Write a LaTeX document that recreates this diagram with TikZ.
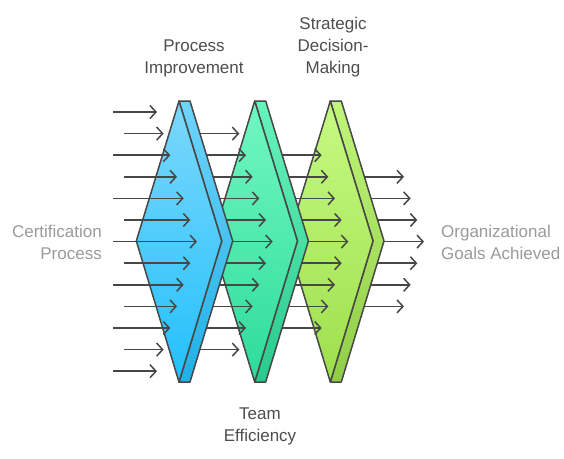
\documentclass[tikz,border=0pt]{standalone}
\usepackage{fontspec}
\setmainfont{Liberation Sans}
\usetikzlibrary{arrows.meta}
\definecolor{linegray}{HTML}{474747}
\definecolor{labeldark}{HTML}{4D4D4D}
\definecolor{labellight}{HTML}{9A9A9A}
\definecolor{bluetop}{HTML}{7CD8FB}
\definecolor{bluebot}{HTML}{22C0FB}
\definecolor{greentop}{HTML}{72F8C2}
\definecolor{greenbot}{HTML}{2DDB9A}
\definecolor{limetop}{HTML}{C6FA82}
\definecolor{limebot}{HTML}{9DDF4C}
\tikzset{
    flow/.style={draw=linegray, line width=1.5pt, -{Straight Barb[length=6pt,width=13pt]}},
    layer/.style={draw=linegray, line width=1.5pt, line join=round},
    toplabel/.style={text=labeldark, align=center, inner sep=0pt},
    sidelabel/.style={text=labellight, inner sep=0pt}
}
\begin{document}
\begin{tikzpicture}[x=1pt, y=-1pt, font=\fontsize{17}{22}\selectfont]
    \useasboundingbox (0,0) rectangle (564,458);
    \def\dy{21.6}
    \def\dx{6.67}
    \def\w{42.7}
    \def\s{11}
    % back to front: arrows of column \c+1, then layer \c
    \foreach \c/\xo/\ct/\cb in {2/330.3/limetop/limebot, 1/254.7/greentop/greenbot, 0/179/bluetop/bluebot}{
        \pgfmathsetmacro{\startx}{\xo+18}
        \pgfmathtruncatemacro{\ia}{\c+1}
        \pgfmathtruncatemacro{\ib}{11-\c}
        \foreach \i in {\ia,...,\ib}{
            \pgfmathsetmacro{\tipx}{157+75.67*(\c+1)+\dx*(6-abs(\i-6))}
            \pgfmathsetmacro{\rowy}{112+\i*\dy}
            \draw[flow] (\startx,\rowy) -- (\tipx,\rowy);
        }
        % thin side strip
        \path[layer, top color=\ct!85!\cb, bottom color=\cb!92!black]
            (\xo,101) -- (\xo+\s,101) -- (\xo+\s+\w,241) -- (\xo+\s,382) -- (\xo,382) -- (\xo+\w,241) -- cycle;
        % front face
        \path[layer, top color=\ct, bottom color=\cb]
            (\xo,101) -- (\xo+\w,241) -- (\xo,382) -- (\xo-\w,241) -- cycle;
    }
    % first column, starts alternate
    \foreach \i in {0,...,12}{
        \pgfmathsetmacro{\startx}{isodd(\i) ? 124 : 113.3}
        \pgfmathsetmacro{\tipx}{157+\dx*(6-abs(\i-6))}
        \pgfmathsetmacro{\rowy}{112+\i*\dy}
        \draw[flow] (\startx,\rowy) -- (\tipx,\rowy);
    }
    \node[toplabel] (improve) at (194,58) {Process\\Improvement};
    \node[toplabel] (decide) at (333,47) {Strategic\\Decision-\\Making};
    \node[toplabel] (team) at (260,426) {Team\\Efficiency};
    \node[sidelabel, anchor=east, align=right] (cert) at (102,242) {Certification\\Process};
    \node[sidelabel, anchor=west, align=left] (goals) at (441,242) {Organizational\\Goals Achieved};
\end{tikzpicture}
\end{document}
